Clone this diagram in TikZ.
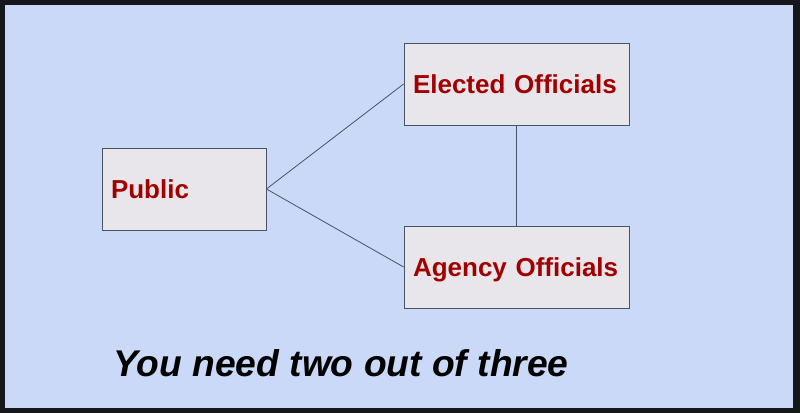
\documentclass[tikz,border=0pt]{standalone}
\usepackage{fontspec}
\setmainfont{Liberation Sans}
\usepackage{xcolor}
\usepackage{tikz}
\usetikzlibrary{positioning}
\definecolor{slideblue}{RGB}{201,217,247}
\definecolor{frameblack}{RGB}{22,23,26}
\definecolor{boxgray}{RGB}{232,230,234}
\definecolor{boxline}{RGB}{70,84,104}
\definecolor{actorred}{RGB}{160,0,0}
\tikzset{
    actor/.style={rectangle, draw=boxline, fill=boxgray, line width=0.6pt, inner xsep=6.75pt, align=left, minimum height=61.5pt, text height=14pt, text depth=0pt, font=\fontsize{19.5}{22}\selectfont\bfseries, text=actorred},
    link/.style={draw=boxline, line width=0.6pt}
}
\begin{document}
\begin{tikzpicture}[x=0.75pt, y=-0.75pt]
    % Frame and slide
    \fill[frameblack] (0,0) rectangle (800,413);
    \fill[slideblue] (5,5) rectangle (793,408);
    \useasboundingbox (0,0) rectangle (800,413);

    % Actors
    \node[actor, text width=109.5pt] at (184,189) (public) {Public};
    \node[actor, text width=155.25pt] at (516.5,84) (elected) {Elected Officials};
    \node[actor, text width=155.25pt] at (516.5,267) (agency) {Agency Officials};

    % Links
    \draw[link] (public.east) -- (elected.west);
    \draw[link] (public.east) -- (agency.west);
    \draw[link] (elected.south) -- (agency.north);

    % Caption
    \node[anchor=base west, inner sep=0pt, font=\fontsize{27.9}{33}\selectfont\bfseries\itshape] at (113,377) (caption) {You need two out of three};
\end{tikzpicture}
\end{document}
